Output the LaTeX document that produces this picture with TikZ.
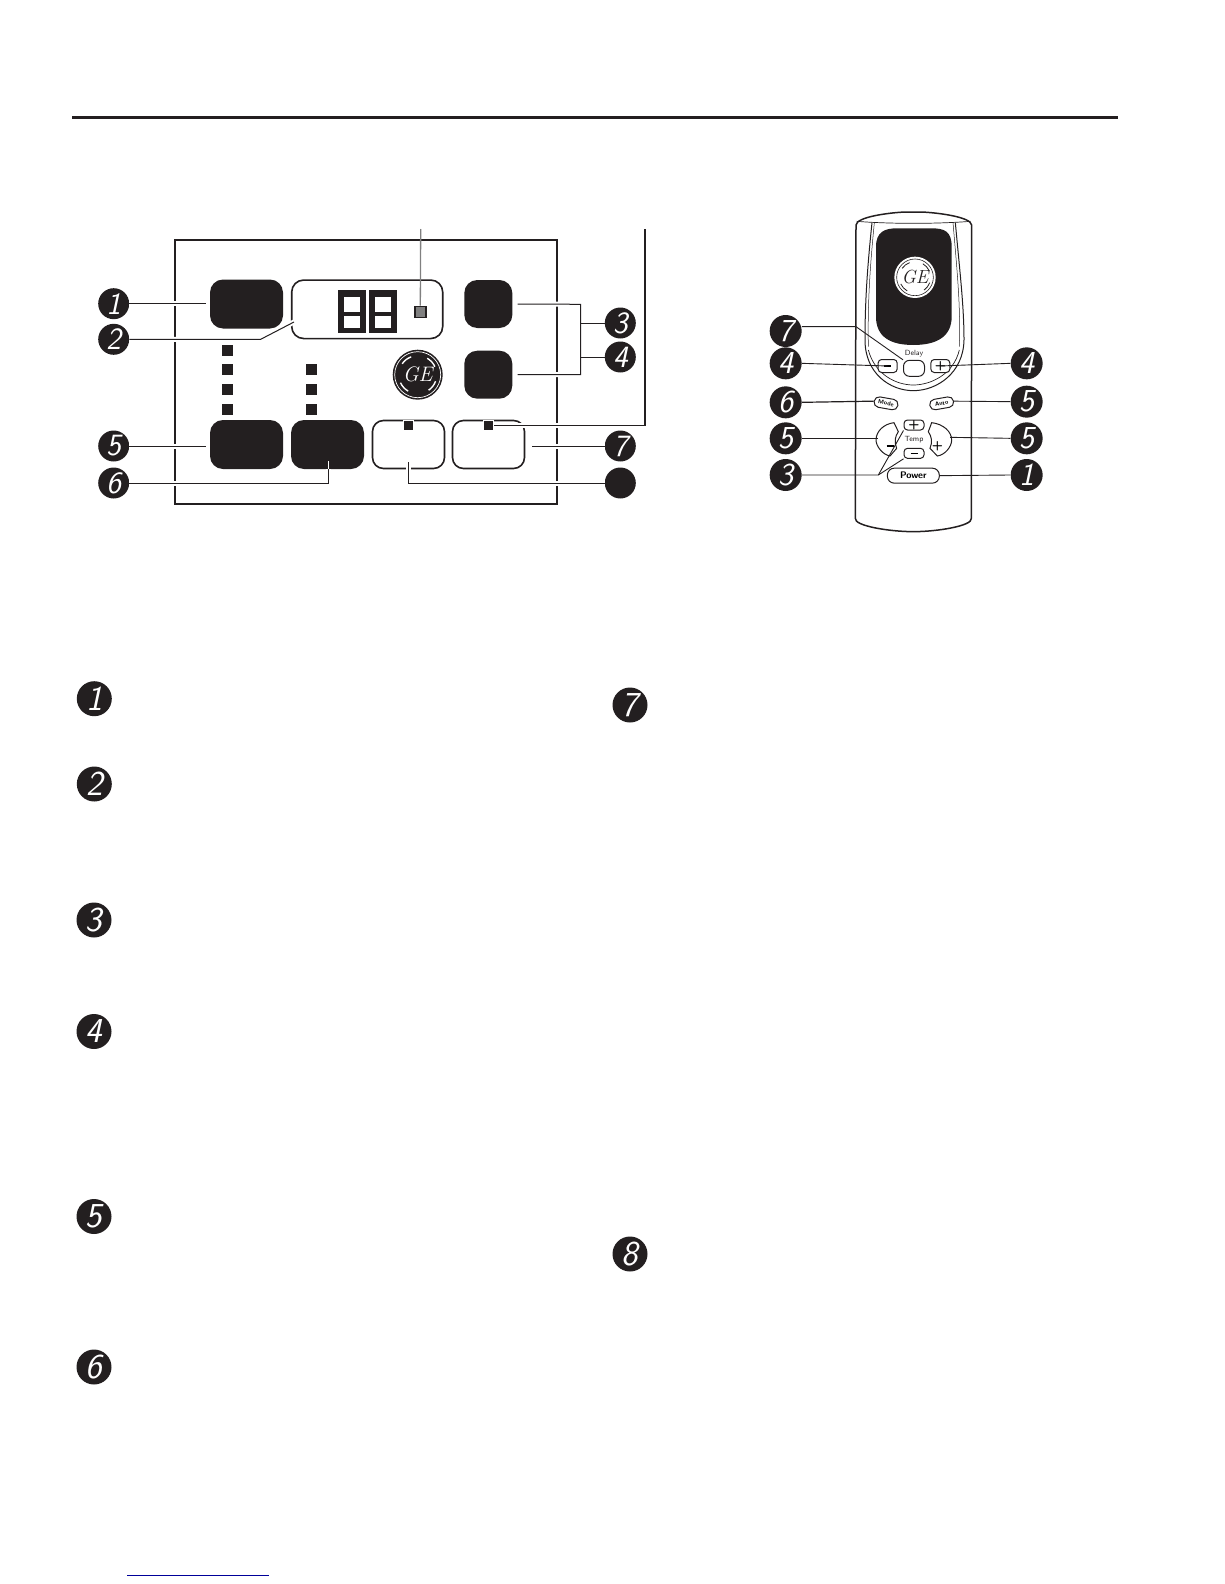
\documentclass[tikz,border=0pt]{standalone}
\definecolor{inkblack}{HTML}{231F20}
\definecolor{linkblue}{HTML}{000099}
\tikzset{
	badge/.style={circle,fill=inkblack,text=white,inner sep=0pt,minimum size=#1,font=\fontsize{#1-8}{20}\selectfont\sffamily\slshape},
	blackkey/.style={fill=inkblack,rounded corners=13pt,inner sep=0pt,minimum width=73pt,minimum height=49pt},
	squarekey/.style={fill=inkblack,rounded corners=13pt,inner sep=0pt,minimum width=48pt,minimum height=48pt},
	whitekey/.style={draw=inkblack,line width=1.6pt,rounded corners=11pt,inner sep=0pt,minimum width=72pt,minimum height=48pt},
	lamp/.style={fill=inkblack,inner sep=0pt,minimum size=11pt},
	tinylamp/.style={fill=inkblack,draw=white,line width=1.5pt,inner sep=0pt,minimum size=10pt},
	lead/.style={draw=inkblack,line width=1pt},
	halolead/.style={lead,preaction={draw=white,line width=5pt}},
	remotekey/.style={draw=inkblack,line width=1pt,rounded corners=3.5pt,inner sep=0pt,font=\fontsize{7}{7}\selectfont\sffamily\bfseries},
	remotetag/.style={font=\fontsize{7.5}{7.5}\selectfont\sffamily,text=inkblack,inner sep=0pt},
	remotelead/.style={draw=inkblack,line width=0.9pt}
}
\begin{document}
\begin{tikzpicture}[x=1pt,y=-1pt]
	\useasboundingbox (0,0) rectangle (1224,1584);
	\draw[inkblack,line width=3.6pt] (72,117.5)--(1118,117.5);
	\draw[linkblue,line width=1pt] (127,1575)--(269,1575);
	\draw[inkblack,line width=2.4pt] (175,240) rectangle (557,504);

	\node[badge=31pt] (panelone) at (113.7,303.7) {1};
	\node[badge=31pt] (paneltwo) at (113.7,339.3) {2};
	\node[badge=31pt] (panelthree) at (620.3,323) {3};
	\node[badge=31pt] (panelfour) at (620.3,357) {4};
	\node[badge=31pt] (panelfive) at (113.7,446) {5};
	\node[badge=31pt] (panelsix) at (113.7,483) {6};
	\node[badge=31pt] (panelseven) at (620.3,446) {7};
	\node[badge=31pt] (paneleight) at (620.3,483) {};

	\node[blackkey] (power) at (246.5,304) {};
	\node[blackkey] (fan) at (246.5,444.5) {};
	\node[blackkey] (mode) at (327.5,444.5) {};
	\node[whitekey] (auto) at (408.5,444.5) {};
	\node[whitekey] (delay) at (488.5,444.5) {};
	\node[squarekey] (tempup) at (488.3,304) {};
	\node[squarekey] (tempdown) at (488.3,374.7) {};
	\node[draw=inkblack,line width=1.6pt,rounded corners=12pt,inner sep=0pt,minimum width=151pt,minimum height=58.5pt] (screen) at (367.2,309.3) {};

	\foreach \y/\n in {350.5/a,369.5/b,389.5/c,409.5/d}
		\node[lamp] (lampfan\n) at (227.7,\y) {};
	\foreach \y/\n in {369.5/b,389.5/c,409.5/d}
		\node[lamp] (lampmode\n) at (311.3,\y) {};
	\node[tinylamp] (lampauto) at (408.7,425.3) {};
	\node[tinylamp] (lampdelay) at (488.7,425.3) {};
	\node[fill=gray,draw=inkblack,line width=1.6pt,inner sep=0pt,minimum size=11pt] (lampfilter) at (420.3,312) {};

	\foreach \x in {352.2,383.3}{
		\fill[inkblack] (\x-14,290) rectangle (\x+14,333);
		\fill[white] (\x-8,297) rectangle (\x+8,311.5);
		\fill[white] (\x-8,316) rectangle (\x+8,327.5);
	}

	\coordinate (filtertop) at (420.7,229);
	\coordinate (delaytop) at (645,229);
	\coordinate (screenend) at (294,322);
	\coordinate (bracketjoin) at (580.7,304.3);
	\draw[halolead] (panelone.east)--([xshift=-4pt]power.west|-panelone.east);
	\draw[halolead] (paneltwo.east)--(260.7,339.3)--(screenend);
	\draw[halolead] (panelfive.east)--([xshift=-4pt]fan.west|-panelfive.east);
	\draw[halolead] (panelsix.east)--(328.7,483)--(mode.south-|328.7,469);
	\draw[white,line width=1.1pt] (328.7,469)--(328.7,460.7);
	\draw[halolead] (paneleight.west)--(408,483)--(408,461.7);
	\draw[halolead] (panelseven.west)--([xshift=7pt]delay.east|-panelseven.west);
	\draw[halolead] ([xshift=5pt]tempup.east)--(bracketjoin)--(bracketjoin|-tempdown.east)--([xshift=5pt]tempdown.east);
	\draw[lead] (panelthree.west)--(bracketjoin|-panelthree.west);
	\draw[lead] (panelfour.west)--(bracketjoin|-panelfour.west);
	\draw[lead,gray,line width=1.3pt] (filtertop)--(lampfilter.north);
	\draw[halolead,line width=1.6pt] (lampdelay.east)--(delaytop|-lampdelay.east)--(delaytop);

	\fill[inkblack] (417.7,374.7) circle (25);
	\draw[white,line width=0.7pt] (417.7,374.7) circle (23);
	\foreach \a in {20,120,215,300}
		\draw[white,line width=1.4pt] ([shift={(\a:19)}]417.7,374.7) arc (\a:\a+35:19);
	\node[text=white,font=\fontsize{21}{21}\selectfont\itshape,inner sep=0pt] (panellogo) at (417.7,374.7) {GE};

	\begin{scope}[shift={(750,200)},scale=1/3]
		\draw[inkblack,line width=1.5pt] (318,75) .. controls (320,50) and (420,38) .. (465,36) -- (515,36) .. controls (560,38) and (662,50) .. (665,75) -- (664,955) .. controls (668,978) and (560,995) .. (490,995) .. controls (420,995) and (312,978) .. (316,955) -- cycle;
		\draw[inkblack,line width=0.7pt] (320,64) .. controls (420,72) and (560,72) .. (662,64);
		\draw[inkblack,line width=1pt] (366,68) .. controls (350,220) and (345,320) .. (345,420) .. controls (345,520) and (420,572) .. (490,572) .. controls (560,572) and (640,520) .. (642,420) .. controls (642,320) and (630,220) .. (616,68);
		\draw[inkblack,line width=0.5pt] (373,68) .. controls (358,220) and (353,320) .. (355,440);
		\draw[inkblack,line width=0.5pt] (609,68) .. controls (622,220) and (632,320) .. (628,440);
		\draw[inkblack,line width=0.7pt] (355,450) .. controls (375,525) and (440,555) .. (490,555) .. controls (540,555) and (610,525) .. (628,450);
		\fill[inkblack] (378,140) .. controls (378,95) and (405,85) .. (440,85) -- (545,85) .. controls (585,85) and (605,95) .. (605,140) -- (605,350) .. controls (605,410) and (560,435) .. (490,435) .. controls (420,435) and (378,410) .. (378,350) -- cycle;
		\fill[white] (495,232) circle (62);
		\draw[inkblack,line width=0.6pt] (495,232) circle (55);
		\foreach \a in {20,120,215,300}
			\draw[inkblack,line width=0.8pt] ([shift={(\a:47)}]495,232) arc (\a:\a+35:47);
		\node[text=inkblack,font=\fontsize{19}{19}\selectfont\itshape,inner sep=0pt] (remotelogo) at (495,232) {GE};

		\node[badge=32pt] (remoteseven) at (107,393) {7};
		\node[badge=32pt] (remotefourl) at (107,490) {4};
		\node[badge=32pt] (remotesix) at (107,607) {6};
		\node[badge=32pt] (remotefivel) at (107,715) {5};
		\node[badge=32pt] (remotethree) at (107,825) {3};
		\node[badge=32pt] (remotefourr) at (830,490) {4};
		\node[badge=32pt] (remotefivea) at (830,605) {5};
		\node[badge=32pt] (remotefiver) at (830,715) {5};
		\node[badge=32pt] (remoteone) at (830,825) {1};

		\node[remotetag] (delaylabel) at (492,462) {Delay};
		\node[remotetag] (templabel) at (492,718) {Temp};
		\node[draw=inkblack,line width=1pt,rounded corners=6pt,inner sep=0pt,minimum width=21pt,minimum height=16pt] (delaykey) at (492,505) {};
		\node[remotekey,fill=white,minimum width=19pt,minimum height=13pt] (delayminus) at (413,498) {\rule{7pt}{1.6pt}};
		\node[remotekey,fill=white,minimum width=19pt,minimum height=13pt,font=\fontsize{13}{13}\selectfont\sffamily\bfseries] (delayplus) at (571,498) {+};
		\node[remotekey,rotate=-10,rounded corners=5pt,minimum width=24pt,minimum height=10.5pt,font=\fontsize{6}{6}\selectfont\sffamily\bfseries] (modekey) at (408,610) {Mode};
		\node[remotekey,rotate=10,rounded corners=5pt,minimum width=24pt,minimum height=10.5pt,font=\fontsize{6}{6}\selectfont\sffamily\bfseries] (autokey) at (575,610) {Auto};
		\node[remotekey,minimum width=20pt,minimum height=10pt,font=\fontsize{13}{13}\selectfont\sffamily\bfseries] (tempplus) at (492,675) {+};
		\node[remotekey,minimum width=20pt,minimum height=10pt] (tempminus) at (492,760) {\rule{7pt}{1.6pt}};
		\node[draw=inkblack,line width=1pt,rounded corners=7pt,inner sep=0pt,minimum width=52pt,minimum height=15pt,font=\fontsize{9.5}{9.5}\selectfont\sffamily\bfseries] (powerkey) at (490,827) {Power};

		\draw[inkblack,line width=1pt,fill=white] (432,668) .. controls (400,672) and (378,695) .. (378,720) .. controls (378,740) and (400,765) .. (420,768) -- (440,745) .. controls (432,725) and (435,710) .. (445,695) -- cycle;
		\draw[inkblack,line width=1pt,fill=white] (545,668) .. controls (580,672) and (605,695) .. (605,720) .. controls (605,740) and (585,765) .. (562,768) -- (540,745) .. controls (548,725) and (545,710) .. (535,695) -- cycle;
		\node[inner sep=0pt] (fanminus) at (420,738) {\rule{7pt}{1.6pt}};
		\node[font=\fontsize{13}{13}\selectfont\sffamily\bfseries,inner sep=0pt] (fanplus) at (562,738) {+};

		\coordinate (fanleft) at (385,715);
		\coordinate (fanright) at (600,712);
		\coordinate (delayelbow) at (318,380);
		\coordinate (tempelbow) at (385,825);
		\draw[remotelead] (remoteseven.east|-delayelbow)--(delayelbow)--(delaykey.north west);
		\draw[remotelead] (remotefourl.east)--(delayminus.center);
		\draw[remotelead] (remotefourr.west)--(delayplus.center);
		\draw[remotelead,line width=1.2pt] (remotesix.east)--(modekey.west);
		\draw[remotelead] (remotefivea.west)--(autokey.east);
		\draw[remotelead] (remotefivel.east)--(fanleft);
		\draw[remotelead] (remotefiver.west)--(fanright);
		\draw[remotelead] (remotethree.east)--(tempelbow)--(tempplus.south west);
		\draw[remotelead] (tempelbow)--(tempminus.south west);
		\draw[remotelead] (remoteone.west)--(powerkey.east);
	\end{scope}
	\node[badge=35pt] (listone) at (94.3,698.7) {1};
	\node[badge=35pt] (listtwo) at (94.3,784) {2};
	\node[badge=35pt] (listthree) at (94,920) {3};
	\node[badge=35pt] (listfour) at (94,1031.5) {4};
	\node[badge=35pt] (listfive) at (94,1216.5) {5};
	\node[badge=35pt] (listsix) at (94,1367) {6};
	\node[badge=35pt] (listseven) at (630,705) {7};
	\node[badge=35pt] (listeight) at (630,1254) {8};
\end{tikzpicture}
\end{document}
